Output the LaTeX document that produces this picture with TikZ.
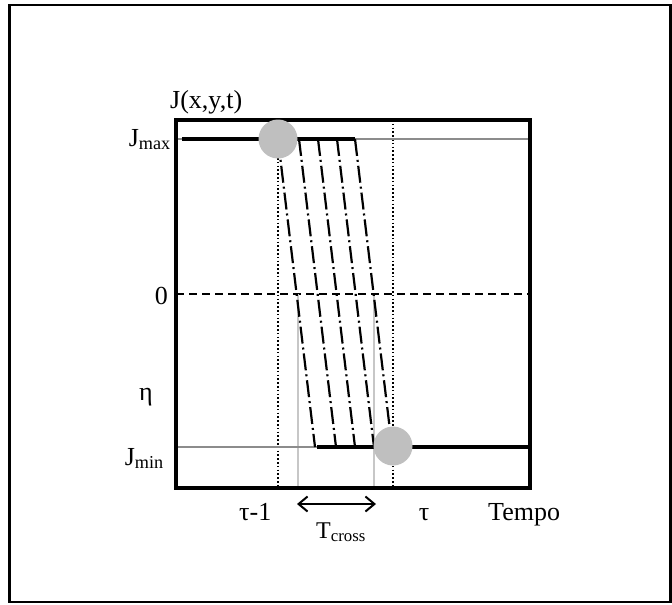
\documentclass[tikz,border=0pt]{standalone}
\usepackage{fontspec}
\setmainfont{Liberation Serif}
\usetikzlibrary{arrows.meta,positioning}

\begin{document}
\begin{tikzpicture}[x=1pt, y=-1pt, font=\fontsize{26}{30}\selectfont,
  lbl/.style={inner sep=0pt},
  frm/.style={line width=2.5pt},
  box/.style={line width=4pt},
  bar/.style={line width=3.5pt},
  gl/.style={black!45, line width=1.5pt},
  vl/.style={black!22, line width=1.8pt},
  dot/.style={line width=1.6pt, dash pattern=on 1.6pt off 2.2pt},
  zl/.style={line width=2pt, dash pattern=on 8pt off 5pt},
  dd/.style={line width=2.2pt, dash pattern=on 17pt off 4pt on 2pt off 4pt},
  ball/.style={circle, fill=black!25, minimum size=39pt, inner sep=0pt},
  a/.style={{Straight Barb[length=9pt,width=15pt]}-{Straight Barb[length=9pt,width=15pt]}, line width=2pt}]
\useasboundingbox (0,0) rectangle (672,605);
\draw[frm] (9.5,5) rectangle (670.5,602);

\draw[dot] (278,120) -- (278,486);
\draw[dot] (393,120) -- (393,486);
\draw[zl] (176,294) -- (530,294);
\draw[vl] (298,294) -- (298,488);
\draw[vl] (374,294) -- (374,488);
\draw[gl] (174,139) -- (530,139);
\draw[gl] (176,447) -- (317,447);
\draw[bar] (182,139) -- (355,139);
\draw[bar] (317,447) -- (530,447);
\foreach \t in {278,299,318,337,355}
  \draw[dd] (\t,139) -- (\t+37,447);
\draw[box] (176,120) rectangle (530,488);

\node[ball] (start) at (278,139) {};
\node[ball] (stop) at (393,446) {};

\node[lbl, anchor=base west] (jxyt) at (170,108) {J(x,y,t)};
\node[lbl, anchor=base east] (jmax) at (171,146) {J\textsubscript{max}};
\node[lbl, anchor=base east] (zero) at (168,304) {0};
\node[lbl, anchor=base] (eta) at (146,400) {η};
\node[lbl, anchor=base east] (jmin) at (164,465) {J\textsubscript{min}};
\node[lbl, anchor=base west] (tprev) at (239,520) {τ-1};
\node[lbl, anchor=base] (tau) at (424,520) {τ};
\node[lbl, anchor=base west] (tempo) at (488,520) {Tempo};
\node[lbl, anchor=base west, font=\fontsize{24}{28}\selectfont] (tcross) at (316,538) {T\textsubscript{cross}};

\coordinate (ta) at (297,504);
\coordinate (tb) at (376,504);
\draw[a] (ta) -- (tb);
\end{tikzpicture}
\end{document}
